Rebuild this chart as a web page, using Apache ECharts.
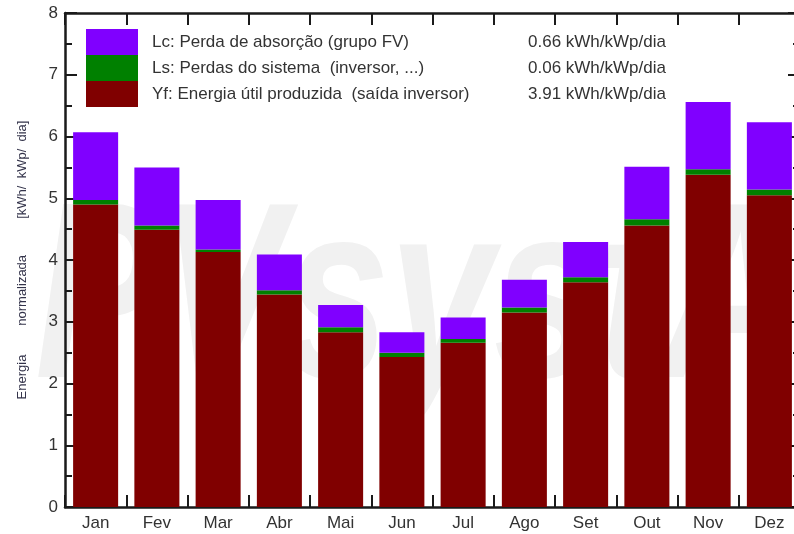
<!DOCTYPE html>
<html>
<head>
<meta charset="utf-8">
<script src="https://cdn.jsdelivr.net/npm/echarts@6/dist/echarts.min.js"></script>
<style>
  html, body { margin: 0; padding: 0; background: #fff; }
  #chart { width: 794px; height: 534px; }
</style>
</head>
<body>
<div id="chart"></div>
<script>
// meses
var months = ['Jan', 'Fev', 'Mar', 'Abr', 'Mai', 'Jun', 'Jul', 'Ago', 'Set', 'Out', 'Nov', 'Dez'];
// Yf: energia util (base da pilha)
var yfValues = [4.90, 4.49, 4.13, 3.44, 2.83, 2.43, 2.66, 3.15, 3.64, 4.56, 5.38, 5.05];
// Ls: perdas do sistema
var lsValues = [0.07, 0.07, 0.04, 0.07, 0.08, 0.07, 0.06, 0.08, 0.08, 0.10, 0.09, 0.09];
// Lc: perdas de absorcao
var lcValues = [1.10, 0.94, 0.80, 0.58, 0.36, 0.33, 0.35, 0.45, 0.57, 0.85, 1.09, 1.09];
// medias anuais mostradas na legenda
var seriesNames = ['Lc: Perda de absorção (grupo FV)', 'Ls: Perdas do sistema  (inversor, ...)', 'Yf: Energia útil produzida  (saída inversor)'];
var seriesMeans = [0.66, 0.06, 3.91];

var axisColor = '#1a1a1a';
var font = '"Liberation Sans", Arial, sans-serif';

var myChart = echarts.init(document.getElementById('chart'));

function frameAxisX(pos, showLabel) {
  return {
    type: 'category',
    data: months,
    position: pos,
    boundaryGap: true,
    axisLine: { show: true, onZero: false, lineStyle: { color: axisColor, width: 2.5 } },
    axisTick: { show: true, inside: true, length: 12, interval: 0, lineStyle: { color: axisColor, width: 2 } },
    axisLabel: { show: showLabel, interval: 0, fontSize: 17, color: '#333', margin: 8 },
    splitLine: { show: false }
  };
}

function frameAxisY(pos, showLabel) {
  return {
    type: 'value',
    position: pos,
    min: 0,
    max: 8,
    interval: 1,
    axisLine: { show: true, onZero: false, lineStyle: { color: axisColor, width: 2.5 } },
    axisTick: { show: true, inside: true, length: 12, lineStyle: { color: axisColor, width: 2 } },
    minorTick: { show: true, splitNumber: 2, length: 7, lineStyle: { color: axisColor, width: 2 } },
    axisLabel: { show: showLabel, fontSize: 17, color: '#333', margin: 7 },
    splitLine: { show: false },
    minorSplitLine: { show: false }
  };
}

var yLeft = frameAxisY('left', true);
yLeft.name = 'Energia        normalizada          [kWh/  kWp/  dia]';
yLeft.nameLocation = 'middle';
yLeft.nameGap = 36;
yLeft.nameRotate = 90;
yLeft.nameTextStyle = { fontSize: 13, color: '#33334a' };

myChart.setOption({
  animation: false,
  textStyle: { fontFamily: font },
  grid: { left: 65, top: 13, right: -6, bottom: 27, containLabel: false, outerBoundsMode: 'none' },
  graphic: [{
    type: 'text',
    z: -10,
    x: 35,
    y: 308,
    scaleX: 0.75,
    silent: true,
    style: {
      text: 'PVsystA',
      font: 'italic bold 250px ' + font,
      fill: '#f1f1f1',
      align: 'left',
      verticalAlign: 'middle'
    }
  }],
  legend: {
    orient: 'vertical',
    left: 86,
    top: 29,
    padding: 0,
    itemWidth: 52,
    itemHeight: 26,
    itemGap: 0,
    icon: 'rect',
    selectedMode: false,
    data: seriesNames,
    formatter: function (name) {
      var i = seriesNames.indexOf(name);
      return '{a|' + name + '}{b|' + seriesMeans[i].toFixed(2) + ' kWh/kWp/dia}';
    },
    textStyle: {
      fontSize: 17,
      color: '#333',
      rich: {
        a: { fontSize: 17, color: '#333', width: 376, padding: [0, 0, 0, 9] },
        b: { fontSize: 17, color: '#333' }
      }
    }
  },
  xAxis: [frameAxisX('bottom', true), frameAxisX('top', false)],
  yAxis: [yLeft, frameAxisY('right', false)],
  series: [
    { name: seriesNames[2], type: 'bar', stack: 'pr', barWidth: '73.5%', data: yfValues, itemStyle: { color: '#800000' } },
    { name: seriesNames[1], type: 'bar', stack: 'pr', barWidth: '73.5%', data: lsValues, itemStyle: { color: '#008000' } },
    { name: seriesNames[0], type: 'bar', stack: 'pr', barWidth: '73.5%', data: lcValues, itemStyle: { color: '#8000ff' } }
  ]
});

window.onresize = function () {
  myChart.resize();
};
</script>
</body>
</html>
